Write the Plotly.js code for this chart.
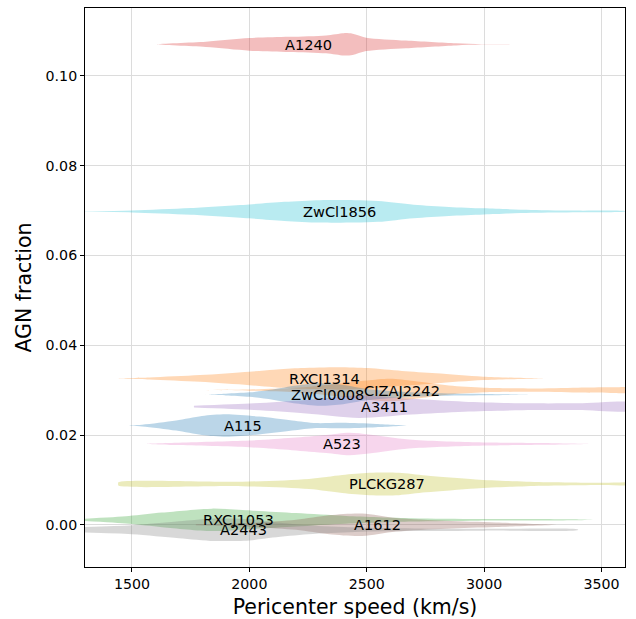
<!DOCTYPE html>
<html>
<head>
<meta charset="utf-8">
<script src="https://cdn.plot.ly/plotly-3.0.1.min.js"></script>
<style>html,body{margin:0;padding:0;background:#fff;}#chart{width:636px;height:619px;}</style>
</head>
<body>
<div id="chart"></div>
<script>
// Cluster names, AGN fraction (violin position) and label speed
const clusters = ['A1240','ZwCl1856','RXCJ1314','CIZAJ2242','ZwCl0008','A3411','A115','A523','PLCKG287','RXCJ1053','A1612','A2443'];
const agnFraction = [0.1070, 0.0698, 0.0326, 0.0300, 0.0290, 0.0263, 0.0221, 0.0180, 0.0091, 0.0011, 0.0000, -0.0011];
const labelSpeed = [2254, 2386, 2318, 2650, 2331, 2574, 1973, 2395, 2586, 1952, 2544, 1973];

// Pericenter-speed density profiles (km/s, relative density)
const speedA1240 = [1607, 1815, 2000, 2170, 2327, 2403, 2440, 2497, 2667, 2880, 2990, 3234];
const densA1240  = [0, 0.24, 0.56, 0.67, 0.80, 1.0, 0.95, 0.60, 0.34, 0.09, 0.02, 0.0];
const speedZwCl1856 = [1300, 1500, 1750, 2000, 2150, 2300, 2450, 2550, 2700, 2850, 3000, 3200, 3400, 3600];
const densZwCl1856  = [0.02, 0.09, 0.30, 0.62, 0.85, 1.0, 1.0, 0.93, 0.60, 0.40, 0.27, 0.13, 0.07, 0.02];
const speedRXCJ1314 = [1438, 1575, 1790, 2000, 2105, 2220, 2380, 2505, 2650, 2795, 2996, 3250];
const densRXCJ1314  = [0, 0.09, 0.30, 0.60, 0.78, 0.92, 1.0, 0.92, 0.66, 0.45, 0.15, 0];
const speedCIZAJ2242 = [1770, 2000, 2200, 2350, 2500, 2600, 2700, 2850, 3000, 3200, 3400, 3550, 3650];
const densCIZAJ2242  = [0, 0.05, 0.20, 0.50, 0.85, 1.0, 0.80, 0.40, 0.20, 0.15, 0.22, 0.25, 0.20];
const speedZwCl0008 = [1810, 1900, 2000, 2100, 2200, 2300, 2400, 2500, 2650, 2800, 3000, 3230];
const densZwCl0008  = [0, 0.08, 0.20, 0.45, 0.80, 1.0, 0.85, 0.50, 0.25, 0.12, 0.06, 0];
const speedA3411 = [1764, 2020, 2242, 2467, 2690, 2915, 3210, 3400, 3650];
const densA3411  = [0.08, 0.30, 0.60, 1.0, 0.70, 0.45, 0.30, 0.30, 0.30];
const speedA115 = [1466, 1543, 1688, 1798, 1900, 2041, 2182, 2284, 2395, 2540, 2680];
const densA115  = [0, 0.08, 0.45, 0.85, 1.0, 0.80, 0.45, 0.22, 0.25, 0.15, 0];
const speedA523 = [1564, 1688, 2000, 2182, 2327, 2425, 2510, 2680, 2965, 3247, 3447];
const densA523  = [0, 0.10, 0.30, 0.55, 0.80, 1.0, 0.85, 0.40, 0.15, 0.08, 0];
const speedPLCKG287 = [1441, 1442, 1970, 2254, 2395, 2510, 2637, 2752, 2965, 3180, 3503, 3650];
const densPLCKG287  = [0, 0.15, 0.20, 0.45, 0.80, 1.0, 1.0, 0.75, 0.40, 0.20, 0.10, 0.08];
const speedRXCJ1053 = [1295, 1487, 1628, 1841, 1986, 2199, 2412, 2693, 2978, 3404, 3480];
const densRXCJ1053  = [0.10, 0.35, 0.65, 1.0, 0.85, 0.60, 0.35, 0.15, 0.08, 0.04, 0];
const speedA1612 = [1772, 1986, 2199, 2340, 2480, 2625, 2838, 3050, 3320];
const densA1612  = [0.05, 0.15, 0.45, 0.85, 1.0, 0.60, 0.35, 0.20, 0];
const speedA2443 = [1295, 1500, 1700, 1850, 2000, 2100, 2250, 2450, 2700, 3000, 3400];
const densA2443  = [0.25, 0.40, 0.75, 1.0, 0.95, 0.70, 0.40, 0.20, 0.12, 0.08, 0.03];

const profiles = {
  A1240: [speedA1240, densA1240], ZwCl1856: [speedZwCl1856, densZwCl1856],
  RXCJ1314: [speedRXCJ1314, densRXCJ1314], CIZAJ2242: [speedCIZAJ2242, densCIZAJ2242],
  ZwCl0008: [speedZwCl0008, densZwCl0008], A3411: [speedA3411, densA3411],
  A115: [speedA115, densA115], A523: [speedA523, densA523],
  PLCKG287: [speedPLCKG287, densPLCKG287], RXCJ1053: [speedRXCJ1053, densRXCJ1053],
  A1612: [speedA1612, densA1612], A2443: [speedA2443, densA2443]
};

const colors = {
  A1240:'#d62728', ZwCl1856:'#17becf', RXCJ1314:'#ff7f0e', CIZAJ2242:'#ff7f0e',
  ZwCl0008:'#1f77b4', A3411:'#9467bd', A115:'#1f77b4', A523:'#e377c2',
  PLCKG287:'#bcbd22', RXCJ1053:'#2ca02c', A1612:'#8c564b', A2443:'#7f7f7f'
};
function rgba(hex, a){
  const r=parseInt(hex.slice(1,3),16), g=parseInt(hex.slice(3,5),16), b=parseInt(hex.slice(5,7),16);
  return `rgba(${r},${g},${b},${a})`;
}
const halfWidth = 0.0025;

const traces = [];
clusters.forEach((name, i) => {
  const [s, d] = profiles[name];
  const c = agnFraction[i];
  const xs = s.concat(s.slice().reverse());
  const ys = s.map((_, k) => c + halfWidth * d[k]).concat(s.map((_, k) => c - halfWidth * d[k]).reverse());
  traces.push({
    type: 'scatter', mode: 'lines', x: xs, y: ys, fill: 'toself',
    fillcolor: rgba(colors[name], 0.3), line: {width: 0, shape: 'spline', smoothing: 0.8},
    hoverinfo: 'skip', showlegend: false
  });
});

const annotations = clusters.map((name, i) => ({
  x: labelSpeed[i], y: agnFraction[i], xref: 'x', yref: 'y', text: name, showarrow: false,
  font: {family: 'DejaVu Sans', size: 14.6, color: '#000'}, xanchor: 'center', yanchor: 'middle'
}));

const layout = {
  width: 636, height: 619,
  margin: {l: 85, r: 11, t: 8, b: 52},
  paper_bgcolor: '#fff', plot_bgcolor: '#fff',
  font: {family: 'DejaVu Sans', size: 14.2, color: '#000'},
  showlegend: false,
  xaxis: {
    range: [1300, 3600], tickvals: [1500, 2000, 2500, 3000, 3500],
    ticks: 'outside', ticklen: 4, tickcolor: '#000',
    showline: true, linecolor: '#000', linewidth: 1, mirror: true,
    showgrid: true, gridcolor: '#dcdcdc', gridwidth: 1, zeroline: false,
    title: {text: 'Pericenter speed (km/s)', font: {size: 20.5}, standoff: 8},
    automargin: false
  },
  yaxis: {
    range: [-0.0094, 0.1151], tickvals: [0, 0.02, 0.04, 0.06, 0.08, 0.10], tickformat: '.2f',
    ticks: 'outside', ticklen: 4, tickcolor: '#000',
    showline: true, linecolor: '#000', linewidth: 1, mirror: true,
    showgrid: true, gridcolor: '#dcdcdc', gridwidth: 1, zeroline: false,
    title: {text: 'AGN fraction', font: {size: 20.5}, standoff: 8},
    automargin: false
  },
  annotations: annotations
};

Plotly.newPlot('chart', traces, layout, {displayModeBar: false, staticPlot: true});
</script>
</body>
</html>
